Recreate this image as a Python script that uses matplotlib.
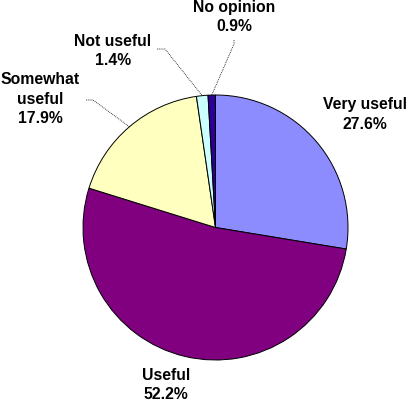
import numpy as np
import matplotlib
matplotlib.use("Agg")
import matplotlib.pyplot as plt

categories = ["Very useful", "Useful", "Somewhat\nuseful", "Not useful", "No opinion"]
values = [27.6, 52.2, 17.9, 1.4, 0.9]
colors = ["#8C8CFF", "#800080", "#FFFFC0", "#CCFFFF", "#2A0099"]

W, H = 409, 404
fig = plt.figure(figsize=(W / 100, H / 100), dpi=100)
ax = fig.add_axes([0, 0, 1, 1])

cx, cy, r = 215.5, H - 227.5, 132.5
wedges, _ = ax.pie(values, colors=colors, startangle=90, counterclock=False,
                   center=(cx, cy), radius=r,
                   wedgeprops=dict(edgecolor="black", linewidth=0.7))
ax.set_xlim(0, W)
ax.set_ylim(0, H)
ax.set_aspect("auto")
ax.axis("off")

# label text positions (pixels from top-left) and whether a leader is drawn
label_pos = [(365, 114.5), (166, 385), (40, 99), (113, 51), (234, 17)]
leader_start = [None, None, (86, 100), (157, 49), (234, 40)]
leader_knee = [None, None, (93, 100), (165, 49), (234, 44)]

font = dict(family=["Liberation Sans", "DejaVu Sans"], fontweight="bold", fontsize=11.3)
for w, cat, v, (tx, ty), ls, lk in zip(wedges, categories, values, label_pos, leader_start, leader_knee):
    ax.text(tx, H - ty, f"{cat}\n{v:.1f}%", ha="center", va="center",
            linespacing=1.4, **font)
    if ls is not None:
        ang = np.deg2rad((w.theta1 + w.theta2) / 2)
        ex = cx + r * np.cos(ang)
        ey = cy + r * np.sin(ang)
        ax.plot([ls[0], lk[0], ex], [H - ls[1], H - lk[1], ey], color="black",
                linewidth=0.6, linestyle=(0, (1, 1.2)))

fig.savefig("out.png", dpi=100, facecolor="white")
